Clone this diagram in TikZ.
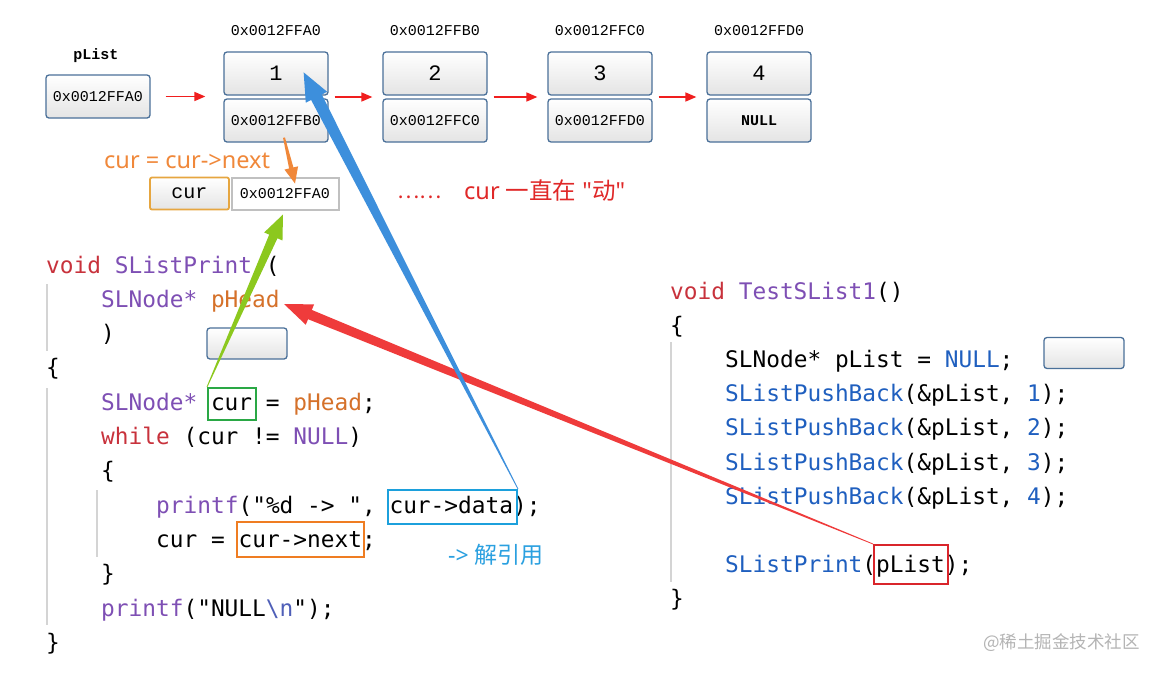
\documentclass[tikz,border=0pt]{standalone}
\usepackage{fontspec}
\usetikzlibrary{arrows.meta,calc}
\newfontfamily\codefont{DejaVu Sans Mono}[Ligatures=ResetAll]
\newfontfamily\boxfont{Liberation Mono}[Ligatures=ResetAll]
\newfontfamily\cjk{Noto Sans CJK SC}[Ligatures=ResetAll]
\newfontfamily\notefont{Noto Sans}[Ligatures=ResetAll]
\definecolor{boxblue}{HTML}{4A7099}
\definecolor{boxgray}{HTML}{E4E4E4}
\definecolor{kwred}{HTML}{C8323C}
\definecolor{fnpurple}{HTML}{7E4FB4}
\definecolor{argorange}{HTML}{D5712A}
\definecolor{callblue}{HTML}{1F5FBF}
\definecolor{escblue}{HTML}{4F5FB8}
\definecolor{guidegray}{HTML}{D4D4D4}
\definecolor{linkred}{HTML}{F01E1E}
\definecolor{noteorange}{HTML}{F0883A}
\definecolor{notered}{HTML}{E02828}
\definecolor{notecyan}{HTML}{2AA0E0}
\definecolor{hlgreen}{HTML}{2AA845}
\definecolor{hlblue}{HTML}{1CA0DC}
\definecolor{hlorange}{HTML}{EF7D22}
\definecolor{hlred}{HTML}{D9252B}
\definecolor{arrgreen}{HTML}{8CC81E}
\definecolor{arrblue}{HTML}{3D8FDC}
\definecolor{arrred}{HTML}{EF3B3B}
\definecolor{arrorange}{HTML}{F0883A}
\definecolor{curyellow}{HTML}{E6A640}
\definecolor{addrgray}{HTML}{C0C0C0}
\definecolor{wmgray}{HTML}{B4B4B4}
\newcommand\taparrow[7]{%
  \path ($(#2)!#7!(#1)$) coordinate (tpH);
  \fill[#3] ($(#1)!#4!90:(#2)$) -- ($(tpH)!#5!90:(#2)$) -- ($(tpH)!#6!90:(#2)$) -- (#2)
    -- ($(tpH)!#6!-90:(#2)$) -- ($(tpH)!#5!-90:(#2)$) -- ($(#1)!#4!-90:(#2)$) -- cycle;
}
\tikzset{
  memb/.style={draw=boxblue, line width=1.3pt, rounded corners=3pt, top color=white,
    bottom color=boxgray, minimum width=104pt, minimum height=43pt, inner sep=0pt,
    font=\boxfont\fontsize{15}{15}\selectfont},
  emptybox/.style={memb, minimum width=80pt, minimum height=31pt},
  addrlabel/.style={inner sep=0pt, font=\boxfont\fontsize{15}{15}\selectfont},
  code/.style={anchor=base west, inner sep=0pt, font=\codefont\fontsize{22.8}{22.8}\selectfont},
  hl/.style={draw=#1, line width=2pt, inner sep=0pt, fill=none},
  guide/.style={draw=guidegray, line width=1.5pt},
  linkarrow/.style={draw=linkred, line width=1.6pt, -{Triangle[length=11pt,width=9pt]}},
  note/.style={anchor=base west, inner sep=0pt},
}
\begin{document}
\begin{tikzpicture}[x=1pt,y=-1pt]
\useasboundingbox (0,0) rectangle (1159,673);
\fill[white] (0,0) rectangle (1159,673);

% ---------- linked list ----------
\node[inner sep=0pt, font=\boxfont\bfseries\fontsize{15}{15}\selectfont] (plistlbl) at (96,56) {pList};
\node[memb] (plist) at (98,96.5) {0x0012FFA0};

\foreach \i/\x/\v/\a/\nx in {1/276/1/0x0012FFA0/0x0012FFB0, 2/435/2/0x0012FFB0/0x0012FFC0, 3/600/3/0x0012FFC0/0x0012FFD0}{
  \node[addrlabel] (ad\i) at (\x,31) {\a};
  \node[memb, font=\boxfont\fontsize{22}{22}\selectfont] (n\i a) at (\x,73.5) {\v};
  \node[memb] (n\i b) at (\x,120.5) {\nx};
}
\node[addrlabel] (ad4) at (759,31) {0x0012FFD0};
\node[memb, font=\boxfont\fontsize{22}{22}\selectfont] (n4a) at (759,73.5) {4};
\node[memb, font=\boxfont\bfseries\fontsize{15}{15}\selectfont] (n4b) at (759,120.5) {NULL};

\draw[linkarrow, shorten <=15pt, shorten >=18pt] (plist.east) -- (plist.east -| n1a.west);
\foreach \p/\q in {1/2,2/3,3/4}{
  \coordinate (m\p) at ($(n\p a.south east)!0.5!(n\p b.north east)$);
  \draw[linkarrow, shorten <=6pt, shorten >=10pt] (m\p) -- (m\p -| n\q a.west);
}

% ---------- cur box ----------
\node[note, font=\notefont\fontsize{23.5}{23.5}\selectfont, text=noteorange] (curnote) at (104,168) {cur = cur->next};
\node[draw=curyellow, line width=1.8pt, rounded corners=2pt, top color=white, bottom color=boxgray, minimum width=79pt,
  minimum height=32pt, inner sep=0pt, font=\boxfont\fontsize{20}{20}\selectfont] (curcell) at (189.5,193.5) {cur};
\node[draw=addrgray, line width=2pt, fill=white, minimum width=107pt, minimum height=32pt, inner sep=0pt,
  font=\boxfont\fontsize{15}{15}\selectfont] (addr) at (285,193.5) {0x0012FFA0};
\node[note, text=notered, font=\cjk\fontsize{21}{21}\selectfont] (dots) at (397,198) {……};
\node[note, text=notered] (dynnote) at (464,199)
  {\cjk\fontsize{23.5}{23.5}\selectfont{\notefont cur\ }一直在{\notefont\ "}动{\notefont "}};

% ---------- left code ----------
\draw[guide] (47,284) -- (47,351);
\draw[guide] (47,388) -- (47,625);
\draw[guide] (97,490) -- (97,557);
\node[code] (l1) at (46,273) {\textcolor{kwred}{void} \textcolor{fnpurple}{SListPrint} (};
\node[code] (l2) at (101,307.3) {\textcolor{fnpurple}{SLNode*} \textcolor{argorange}{pHead}};
\node[code] (l3) at (101,341.6) {)};
\node[code] (l4) at (46,375.9) {\{};
\node[code] (l5) at (101,410.2) {\textcolor{fnpurple}{SLNode*} cur = \textcolor{argorange}{pHead};};
\node[code] (l6) at (101,444.5) {\textcolor{kwred}{while} (cur != \textcolor{fnpurple}{NULL})};
\node[code] (l7) at (101,478.8) {\{};
\node[code] (l8) at (156,513.1) {\textcolor{fnpurple}{printf}("\%d -> ", cur->data);};
\node[code] (l9) at (156,547.4) {cur = cur->next;};
\node[code] (l10) at (101,581.7) {\}};
\node[code] (l11) at (101,616) {\textcolor{fnpurple}{printf}("NULL\textcolor{escblue}{\textbackslash n}");};
\node[code] (l12) at (46,650.3) {\}};

\node[emptybox] (phbox) at (247,343.5) {};

\node[hl=hlgreen, minimum width=48pt, minimum height=32pt] (curbox) at (232,404) {};
\node[hl=hlblue, minimum width=129pt, minimum height=34pt] (databox) at (452.5,507) {};
\node[hl=hlorange, minimum width=127pt, minimum height=35pt] (nextbox) at (300.5,539.5) {};
\node[note, text=notecyan] (derefnote) at (448,563)
  {\notefont\fontsize{23}{23}\selectfont -> {\cjk 解引用}};

% ---------- right code ----------
\draw[guide] (671,342) -- (671,582);
\node[code] (r1) at (670,299) {\textcolor{kwred}{void} \textcolor{fnpurple}{TestSList1}()};
\node[code] (r2) at (670,333.2) {\{};
\node[code] (r3) at (725,367.4) {SLNode* pList = \textcolor{callblue}{NULL};};
\foreach \k/\n in {1/1,2/2,3/3,4/4}{
  \node[code] (r4\k) at (725,367.4+34.2*\k) {\textcolor{callblue}{SListPushBack}(\&pList, \textcolor{callblue}{\n});};
}
\node[code] (r9) at (725,572.6) {\textcolor{callblue}{SListPrint}(pList);};
\node[code] (r10) at (670,606.8) {\}};
\node[emptybox] (plbox) at (1084,353) {};
\node[hl=hlred, minimum width=74pt, minimum height=39pt] (plistbox) at (911,564.5) {};

% ---------- tapered arrows ----------
\coordinate (pheadend) at (284,304);
\coordinate (bluetip) at ($(n1a.north east)+(-25,21)$);
\coordinate (greentip) at ($(addr.south)+(-2,4)$);
\coordinate (orangetail) at ($(n1b.south)+(8,-5)$);
\coordinate (orangetip) at ($(addr.north)+(10,7)$);
\taparrow{plistbox.north west}{pheadend}{arrred}{0.4pt}{5pt}{11pt}{28pt}
\taparrow{databox.north east}{bluetip}{arrblue}{0.4pt}{6pt}{12pt}{28pt}
\taparrow{curbox.north west}{greentip}{arrgreen}{0.4pt}{4.5pt}{10pt}{24pt}
\taparrow{orangetail}{orangetip}{arrorange}{1pt}{2.2pt}{7pt}{16pt}

% ---------- watermark ----------
\node[font=\cjk\fontsize{17.5}{17.5}\selectfont, text=wmgray, anchor=east, inner sep=0pt] (wm) at (1140,643) {@稀土掘金技术社区};
\end{tikzpicture}
\end{document}
